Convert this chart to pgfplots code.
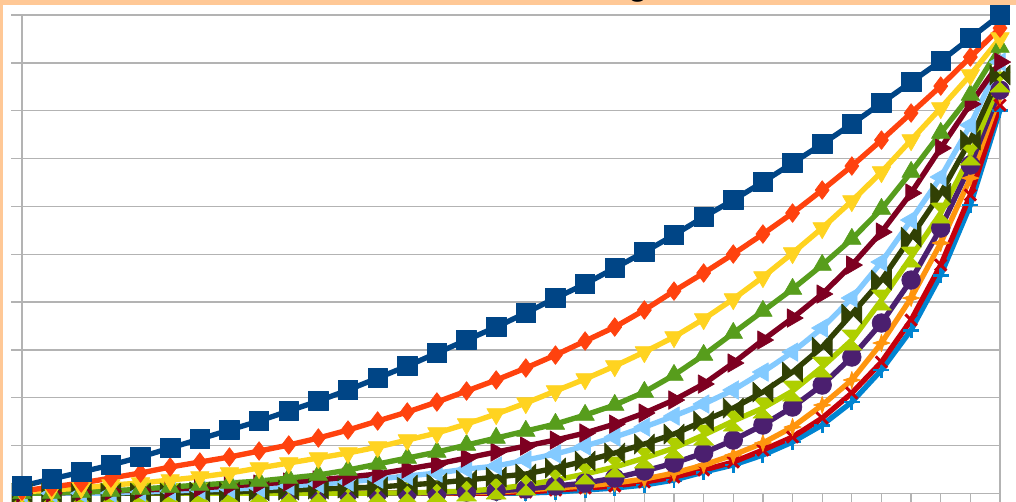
\documentclass[border=0pt]{standalone}
\usepackage{fontspec}
\setmainfont{Liberation Sans}
\usepackage{pgfplots}
\pgfplotsset{compat=1.18}

\definecolor{peach}{HTML}{FFC896}
\definecolor{gridgray}{HTML}{B3B3B3}
\definecolor{s1}{HTML}{004586}
\definecolor{s2}{HTML}{FF420E}
\definecolor{s3}{HTML}{FFD320}
\definecolor{s4}{HTML}{579D1C}
\definecolor{s5}{HTML}{7E0021}
\definecolor{s6}{HTML}{83CAFF}
\definecolor{s7}{HTML}{314004}
\definecolor{s8}{HTML}{AECF00}
\definecolor{s9}{HTML}{4B1F6F}
\definecolor{s10}{HTML}{FF950E}
\definecolor{s11}{HTML}{C5000B}
\definecolor{s12}{HTML}{0084D1}

% marks missing from pgfplots
\pgfdeclareplotmark{bowtie}{%
  \pgfpathmoveto{\pgfqpoint{-\pgfplotmarksize}{\pgfplotmarksize}}%
  \pgfpathlineto{\pgfqpoint{\pgfplotmarksize}{-\pgfplotmarksize}}%
  \pgfpathlineto{\pgfqpoint{\pgfplotmarksize}{\pgfplotmarksize}}%
  \pgfpathlineto{\pgfqpoint{-\pgfplotmarksize}{-\pgfplotmarksize}}%
  \pgfpathclose\pgfusepathqfillstroke}
\pgfdeclareplotmark{hourglass}{%
  \pgfpathmoveto{\pgfqpoint{-\pgfplotmarksize}{\pgfplotmarksize}}%
  \pgfpathlineto{\pgfqpoint{\pgfplotmarksize}{\pgfplotmarksize}}%
  \pgfpathlineto{\pgfqpoint{-\pgfplotmarksize}{-\pgfplotmarksize}}%
  \pgfpathlineto{\pgfqpoint{\pgfplotmarksize}{-\pgfplotmarksize}}%
  \pgfpathclose\pgfusepathqfillstroke}
\pgfdeclareplotmark{star4}{%
  \pgfpathmoveto{\pgfqpoint{0pt}{\pgfplotmarksize}}%
  \pgfpathlineto{\pgfqpoint{.25\pgfplotmarksize}{.25\pgfplotmarksize}}%
  \pgfpathlineto{\pgfqpoint{\pgfplotmarksize}{0pt}}%
  \pgfpathlineto{\pgfqpoint{.25\pgfplotmarksize}{-.25\pgfplotmarksize}}%
  \pgfpathlineto{\pgfqpoint{0pt}{-\pgfplotmarksize}}%
  \pgfpathlineto{\pgfqpoint{-.25\pgfplotmarksize}{-.25\pgfplotmarksize}}%
  \pgfpathlineto{\pgfqpoint{-\pgfplotmarksize}{0pt}}%
  \pgfpathlineto{\pgfqpoint{-.25\pgfplotmarksize}{.25\pgfplotmarksize}}%
  \pgfpathclose\pgfusepathqfillstroke}

\begin{document}
\begin{tikzpicture}
  \useasboundingbox (0,0) rectangle (762pt,376.5pt);
  \fill[peach] (0,0) rectangle (762pt,376.5pt);
  \fill[white] (2.25pt,0) rectangle (762pt,372.75pt);
  \clip (0,0) rectangle (762pt,376.5pt);
  \node[anchor=base, font=\bfseries\fontsize{24}{24}\selectfont] at (478.5pt,379.5pt) {g};
  \begin{axis}[
      at={(16.5pt,6.5pt)}, anchor=south west,
      scale only axis, width=733.5pt, height=358.7pt,
      xmin=0, xmax=33, ymin=0, ymax=10,
      xtick={0,...,33}, ytick={0,...,10},
      xticklabels={}, yticklabels={},
      tick pos=left, tick align=outside, major tick length=8.25pt,
      ymajorgrids, grid style={draw=gridgray, line width=1pt},
      axis line style={draw=gridgray, line width=1pt},
      every tick/.style={draw=gridgray, line width=1pt},
      clip=false,
      every axis plot/.append style={line width=4pt, line join=round},
    ]
    % drawn last series first, so the first series lies on top
    \addplot[s12, mark=+, mark size=6pt, mark options={line width=2.2pt}] coordinates {
      (0,0)(1,0)(2,0)(3,0)(4,0)(5,0)(6,0)(7,0)(8,0)(9,0)(10,0)(11,0)(12,0)(13,0)(14,0)(15,0)(16,0.003)
      (17,0.006)(18,0.027)(19,0.069)(20,0.111)(21,0.174)(22,0.278)(23,0.445)(24,0.592)(25,0.801)
      (26,1.073)(27,1.428)(28,1.909)(29,2.578)(30,3.414)(31,4.564)(32,6.028)(33,8.014)};
    \addplot[s11, mark=x, mark size=6pt, mark options={line width=2.2pt}] coordinates {
      (0,0)(1,0)(2,0)(3,0)(4,0)(5,0)(6,0)(7,0)(8,0)(9,0)(10,0)(11,0)(12,0)(13,0)(14,0)(15,0.003)
      (16,0.006)(17,0.027)(18,0.069)(19,0.111)(20,0.153)(21,0.236)(22,0.341)(23,0.487)(24,0.654)
      (25,0.905)(26,1.177)(27,1.574)(28,2.097)(29,2.745)(30,3.623)(31,4.773)(32,6.237)(33,8.118)};
    \addplot[s10, mark=star4, mark size=6.5pt, mark options={line width=0.5pt}] coordinates {
      (0,0)(1,0)(2,0)(3,0)(4,0)(5,0)(6,0)(7,0)(8,0)(9,0)(10,0)(11,0)(12,0)(13,0.006)(14,0.010)(15,0.020)
      (16,0.027)(17,0.069)(18,0.111)(19,0.153)(20,0.215)(21,0.299)(22,0.424)(23,0.592)(24,0.801)
      (25,1.052)(26,1.386)(27,1.846)(28,2.369)(29,3.142)(30,4.083)(31,5.233)(32,6.592)(33,8.327)};
    \addplot[s9, mark=*, mark size=7pt, mark options={line width=0.5pt}] coordinates {
      (0,0)(1,0)(2,0)(3,0)(4,0)(5,0)(6,0)(7,0)(8,0)(9,0)(10,0)(11,0)(12,0)(13,0.006)(14,0.006)(15,0.027)
      (16,0.048)(17,0.090)(18,0.153)(19,0.215)(20,0.320)(21,0.466)(22,0.633)(23,0.843)(24,1.114)
      (25,1.428)(26,1.804)(27,2.264)(28,2.850)(29,3.561)(30,4.459)(31,5.547)(32,6.864)(33,8.432)};
    \addplot[s8, mark=hourglass, mark size=7.5pt, mark options={line width=0.5pt}] coordinates {
      (0,0)(1,0)(2,0)(3,0)(4,0)(5,0)(6,0)(7,0)(8,0)(9,0)(10,0)(11,0)(12,0.006)(13,0.006)(14,0.027)(15,0.048)
      (16,0.090)(17,0.174)(18,0.278)(19,0.404)(20,0.550)(21,0.738)(22,0.947)(23,1.219)(24,1.512)
      (25,1.783)(26,2.139)(27,2.641)(28,3.205)(29,4.041)(30,4.940)(31,5.860)(32,7.073)(33,8.599)};
    \addplot[s7, mark=bowtie, mark size=7.5pt, mark options={line width=0.5pt}] coordinates {
      (0,0)(1,0)(2,0)(3,0)(4,0.006)(5,0.006)(6,0.027)(7,0.027)(8,0.048)(9,0.069)(10,0.090)(11,0.111)
      (12,0.132)(13,0.174)(14,0.215)(15,0.278)(16,0.341)(17,0.404)(18,0.529)(19,0.675)(20,0.843)
      (21,1.031)(22,1.240)(23,1.512)(24,1.783)(25,2.118)(26,2.536)(27,3.059)(28,3.749)(29,4.459)
      (30,5.358)(31,6.278)(32,7.386)(33,8.746)};
    \addplot[s6, mark=triangle*, mark size=8pt, mark options={rotate=90, line width=0.5pt}] coordinates {
      (0,0)(1,0)(2,0)(3,0.006)(4,0.027)(5,0.048)(6,0.069)(7,0.090)(8,0.111)(9,0.153)(10,0.194)(11,0.236)
      (12,0.299)(13,0.362)(14,0.424)(15,0.508)(16,0.571)(17,0.696)(18,0.822)(19,0.989)(20,1.177)
      (21,1.386)(22,1.616)(23,1.867)(24,2.160)(25,2.536)(26,2.954)(27,3.456)(28,4.083)(29,4.836)
      (30,5.714)(31,6.613)(32,7.700)(33,9.017)};
    \addplot[s5, mark=triangle*, mark size=8pt, mark options={rotate=-90, line width=0.5pt}] coordinates {
      (0,0)(1,0.006)(2,0.027)(3,0.048)(4,0.069)(5,0.090)(6,0.111)(7,0.153)(8,0.194)(9,0.236)(10,0.278)
      (11,0.341)(12,0.404)(13,0.508)(14,0.613)(15,0.738)(16,0.863)(17,0.989)(18,1.114)(19,1.261)
      (20,1.449)(21,1.679)(22,1.951)(23,2.285)(24,2.724)(25,3.205)(26,3.665)(27,4.167)(28,4.773)
      (29,5.463)(30,6.278)(31,7.219)(32,8.139)(33,9.017)};
    \addplot[s4, mark=triangle*, mark size=8pt, mark options={line width=0.5pt}] coordinates {
      (0,0)(1,0.006)(2,0.027)(3,0.048)(4,0.090)(5,0.132)(6,0.174)(7,0.215)(8,0.257)(9,0.320)(10,0.383)
      (11,0.487)(12,0.613)(13,0.738)(14,0.863)(15,1.010)(16,1.156)(17,1.303)(18,1.449)(19,1.637)
      (20,1.846)(21,2.118)(22,2.473)(23,2.891)(24,3.351)(25,3.811)(26,4.271)(27,4.773)(28,5.317)
      (29,5.944)(30,6.717)(31,7.533)(32,8.327)(33,9.331)};
    \addplot[s3, mark=triangle*, mark size=8pt, mark options={rotate=180, line width=0.5pt}] coordinates {
      (0,0.027)(1,0.069)(2,0.111)(3,0.174)(4,0.215)(5,0.278)(6,0.341)(7,0.424)(8,0.529)(9,0.633)
      (10,0.738)(11,0.843)(12,0.968)(13,1.114)(14,1.261)(15,1.449)(16,1.658)(17,1.888)(18,2.139)
      (19,2.390)(20,2.661)(21,2.954)(22,3.268)(23,3.644)(24,4.062)(25,4.522)(26,5.024)(27,5.547)
      (28,6.111)(29,6.717)(30,7.386)(31,8.055)(32,8.746)(33,9.519)};
    \addplot[s2, mark=diamond*, mark size=7pt, mark options={line width=0.5pt}] coordinates {
      (0,0.048)(1,0.132)(2,0.215)(3,0.320)(4,0.424)(5,0.550)(6,0.654)(7,0.759)(8,0.884)(9,1.010)
      (10,1.156)(11,1.323)(12,1.512)(13,1.700)(14,1.909)(15,2.139)(16,2.369)(17,2.620)(18,2.891)
      (19,3.184)(20,3.477)(21,3.832)(22,4.229)(23,4.606)(24,5.003)(25,5.421)(26,5.860)(27,6.341)
      (28,6.843)(29,7.386)(30,7.951)(31,8.515)(32,9.122)(33,9.728)};
    \addplot[s1, mark=square*, mark size=7.3pt, mark options={line width=0.5pt}] coordinates {
      (0,0.153)(1,0.299)(2,0.445)(3,0.592)(4,0.759)(5,0.947)(6,1.135)(7,1.323)(8,1.512)(9,1.721)
      (10,1.930)(11,2.160)(12,2.411)(13,2.661)(14,2.933)(15,3.205)(16,3.477)(17,3.770)(18,4.083)
      (19,4.376)(20,4.710)(21,5.045)(22,5.400)(23,5.777)(24,6.132)(25,6.508)(26,6.906)(27,7.303)
      (28,7.721)(29,8.160)(30,8.599)(31,9.038)(32,9.519)(33,10.0)};
  \end{axis}
\end{tikzpicture}
\end{document}
